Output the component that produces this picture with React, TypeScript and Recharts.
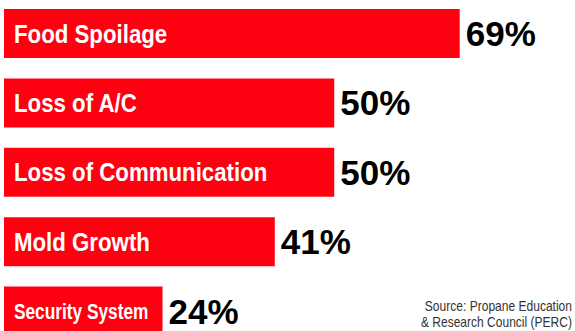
import { BarChart, Bar, XAxis, YAxis, LabelList } from 'recharts';

const categories = ['Food Spoilage', 'Loss of A/C', 'Loss of Communication', 'Mold Growth', 'Security System'];
const shares = [69, 50, 50, 41, 24];
const sourceLines = ['Source: Propane Education', '& Research Council (PERC)'];

const data = categories.map((name, i) => ({ name, value: shares[i] }));

if (typeof document !== 'undefined') document.body.style.margin = '0';

const NAME_FONT = '"Liberation Sans", Arial, sans-serif';
const SQUEEZE = 0.89;

let ctx: CanvasRenderingContext2D | null = null;
function textWidth(s: string, size: number) {
  if (!ctx && typeof document !== 'undefined') ctx = document.createElement('canvas').getContext('2d');
  if (!ctx) return s.length * size * 0.55;
  ctx.font = `bold ${size}px ${NAME_FONT}`;
  return ctx.measureText(s).width;
}

// no condensed face installed, so squeeze a normal bold one; a bit smaller + tighter if it won't fit
function NameLabel(props: any) {
  const vb = props.viewBox || {};
  const x = Number(props.x ?? vb.x ?? 0);
  const y = Number(props.y ?? vb.y ?? 0);
  const w = Number(props.width ?? vb.width ?? 0);
  const h = Number(props.height ?? vb.height ?? 0);
  const label = String(props.value ?? '');
  let size = 25;
  let sq = SQUEEZE;
  const room = w - 24;
  if (textWidth(label, size) * sq > room) {
    size = 22;
    sq = Math.min(SQUEEZE, room / textWidth(label, size));
  }
  return (
    <text
      transform={`translate(${x + 10},${y + h / 2 + size * 0.36}) scale(${sq},1)`}
      fill="#fff"
      style={{ fontFamily: NAME_FONT, fontWeight: 700, fontSize: size }}
    >
      {label}
    </text>
  );
}

export default function App() {
  return (
    <div style={{ position: 'relative', width: 575, height: 331, overflow: 'hidden', background: '#fff' }}>
      <BarChart
        width={575}
        height={346}
        data={data}
        layout="vertical"
        margin={{ top: -1, right: 3, bottom: 0, left: 4 }}
        barSize={49}
      >
        <XAxis type="number" hide domain={[0, 86]} />
        <YAxis type="category" dataKey="name" hide />
        <Bar dataKey="value" fill="#ff0010" isAnimationActive={false}>
          <LabelList dataKey="name" content={NameLabel} />
          <LabelList
            dataKey="value"
            position="right"
            offset={6}
            formatter={(v: unknown) => `${v}%`}
            fill="#000"
            style={{ fontFamily: '"Liberation Sans", Arial, sans-serif', fontWeight: 700, fontSize: 35 }}
          />
        </Bar>
      </BarChart>
      <svg width={575} height={331} style={{ position: 'absolute', left: 0, top: 0, pointerEvents: 'none' }}>
        {sourceLines.map((l, i) => (
          <text
            key={l}
            transform={`translate(572,${311 + i * 16}) scale(0.86,1)`}
            textAnchor="end"
            fill="#333"
            style={{ fontFamily: '"Liberation Sans", Arial, sans-serif', fontSize: 14 }}
          >
            {l}
          </text>
        ))}
      </svg>
    </div>
  );
}
